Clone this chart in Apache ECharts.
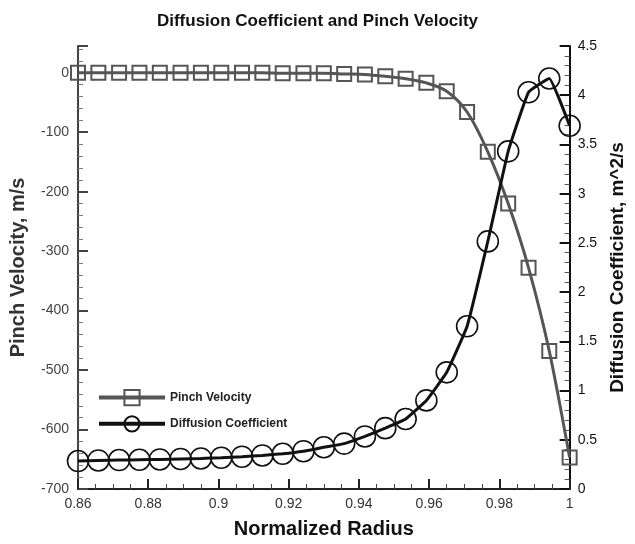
<!DOCTYPE html>
<html>
<head>
<meta charset="utf-8">
<script src="https://cdn.jsdelivr.net/npm/echarts@6/dist/echarts.min.js"></script>
<style>html,body{margin:0;padding:0;background:#fff}#c{width:635px;height:544px}</style>
</head>
<body>
<div id="c"></div>
<script>
var radius = [0.86, 0.8658, 0.8717, 0.8775, 0.8833, 0.8892, 0.895, 0.9008, 0.9067, 0.9125, 0.9183, 0.9242, 0.93, 0.9358, 0.9417, 0.9475, 0.9533, 0.9592, 0.965, 0.9708, 0.9767, 0.9825, 0.9883, 0.9942, 1.0];
var pinchVelocity = [0, 0, 0, 0, 0, 0, 0, 0, 0, 0, -1, -1, -1, -2, -3, -6, -10, -17, -31, -66, -133, -220, -328, -468, -647];
var diffusionCoef = [0.284, 0.29, 0.294, 0.297, 0.30, 0.305, 0.31, 0.318, 0.328, 0.341, 0.358, 0.384, 0.424, 0.461, 0.534, 0.618, 0.711, 0.90, 1.185, 1.653, 2.515, 3.43, 4.03, 4.17, 3.69];
var titleText = 'Diffusion Coefficient and Pinch Velocity';
var xName = 'Normalized Radius';
var yLeftName = 'Pinch Velocity, m/s';
var yRightName = 'Diffusion Coefficient, m^2/s';

function zip(xs, ys) { return xs.map(function (x, i) { return [x, ys[i]]; }); }

var font = 'Liberation Sans, Arial, sans-serif';
var chart = echarts.init(document.getElementById('c'), null, { renderer: 'canvas' });
chart.setOption({
  animation: false,
  backgroundColor: '#fff',
  title: {
    text: titleText, left: 'center', top: 8,
    textStyle: { fontFamily: font, fontWeight: 'bold', fontSize: 17, color: '#111' }
  },
  grid: { left: 78, right: 61, top: 46, bottom: 49, containLabel: false },
  legend: {
    orient: 'vertical', left: 92, top: 384, itemWidth: 66, itemHeight: 19, itemGap: 9,
    textStyle: { fontFamily: font, fontWeight: 'bold', fontSize: 12, color: '#222' },
    data: [
      { name: 'Pinch Velocity', lineStyle: { width: 4, color: '#555' } },
      { name: 'Diffusion Coefficient', lineStyle: { width: 4, color: '#111' } }
    ]
  },
  xAxis: {
    type: 'value', min: 0.86, max: 1, interval: 0.02,
    name: xName, nameLocation: 'middle', nameGap: 30,
    nameTextStyle: { fontFamily: font, fontWeight: 'bold', fontSize: 20, color: '#111' },
    axisLine: { onZero: false, lineStyle: { color: '#222', width: 2 } },
    axisTick: { inside: true, length: 10, lineStyle: { color: '#222', width: 2 } },
    minorTick: { show: true, splitNumber: 4, length: 5, lineStyle: { color: '#444', width: 1 } },
    axisLabel: { fontFamily: font, fontSize: 14, color: '#333', margin: 8 },
    splitLine: { show: false }
  },
  yAxis: [{
    type: 'value', min: -700, max: 45, interval: 100, position: 'left',
    name: yLeftName, nameLocation: 'middle', nameGap: 50, nameRotate: 90,
    nameTextStyle: { fontFamily: font, fontWeight: 'bold', fontSize: 20, color: '#333' },
    axisLine: { show: true, onZero: false, lineStyle: { color: '#444', width: 2 } },
    axisTick: { inside: true, length: 10, lineStyle: { color: '#444', width: 2 } },
    minorTick: { show: true, splitNumber: 5, length: 5, lineStyle: { color: '#777', width: 1 } },
    axisLabel: { fontFamily: font, fontSize: 14, color: '#444', margin: 9, showMaxLabel: false },
    splitLine: { show: false }
  }, {
    type: 'value', min: 0, max: 4.5, interval: 0.5, position: 'right',
    name: yRightName, nameLocation: 'middle', nameGap: 33, nameRotate: 90,
    nameTextStyle: { fontFamily: font, fontWeight: 'bold', fontSize: 19, color: '#111' },
    axisLine: { show: true, onZero: false, lineStyle: { color: '#111', width: 2 } },
    axisTick: { inside: true, length: 10, lineStyle: { color: '#111', width: 2 } },
    minorTick: { show: true, splitNumber: 5, length: 5, lineStyle: { color: '#555', width: 1 } },
    axisLabel: { fontFamily: font, fontSize: 14, color: '#111', margin: 8 },
    splitLine: { show: false }
  }],
  series: [{
    name: 'Pinch Velocity', type: 'line', yAxisIndex: 0, smooth: 0.3,
    data: zip(radius, pinchVelocity),
    symbol: 'rect', symbolSize: 14,
    lineStyle: { color: '#555', width: 3 },
    itemStyle: { color: 'rgba(255,255,255,0)', borderColor: '#555', borderWidth: 2 }
  }, {
    name: 'Diffusion Coefficient', type: 'line', yAxisIndex: 1, smooth: 0.1,
    data: zip(radius, diffusionCoef),
    symbol: 'circle', symbolSize: 21,
    lineStyle: { color: '#111', width: 3 },
    itemStyle: { color: 'rgba(255,255,255,0)', borderColor: '#111', borderWidth: 1.6 }
  }]
});
</script>
</body>
</html>
